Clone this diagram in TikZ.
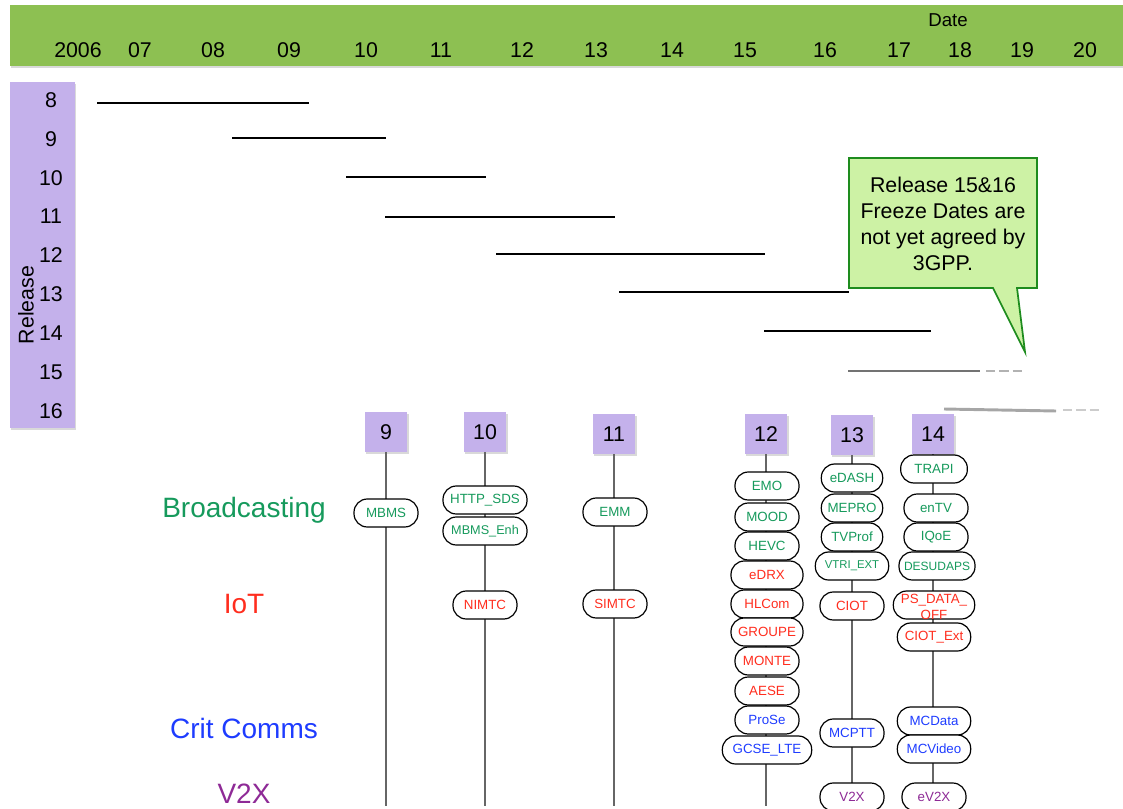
\documentclass[tikz,border=0pt]{standalone}
\usepackage{fontspec}
\setmainfont{Liberation Sans}
\usetikzlibrary{shadows}

\definecolor{bargreen}{HTML}{8DC052}
\definecolor{relpurple}{HTML}{C4B1EB}
\definecolor{notefill}{HTML}{CDF2A5}
\definecolor{noteedge}{HTML}{1E8C1E}
\definecolor{bcgreen}{HTML}{169A5C}
\definecolor{iotred}{HTML}{FF2D1E}
\definecolor{ccblue}{HTML}{1E3CFF}
\definecolor{vxpurple}{HTML}{8E2A96}

\begin{document}
\begin{tikzpicture}[x=0.75pt,y=-0.75pt, font=\fontsize{16}{19}\selectfont]
            \tikzstyle{feat}=[draw=black,fill=white,line width=0.9pt,rounded corners=10pt,minimum height=21pt,minimum width=48pt,inner sep=1pt,font=\fontsize{10}{12}\selectfont]
            \tikzstyle{rel}=[fill=relpurple,minimum width=32pt,minimum height=30pt,font=\fontsize{16}{19}\selectfont,drop shadow={shadow xshift=1pt,shadow yshift=-1.2pt,opacity=0.3}]
            \tikzstyle{bar}=[line width=2.2pt,black]
            \tikzstyle{stem}=[line width=2pt,black!60]
            \tikzstyle{cat}=[font=\fontsize{21}{24}\selectfont]
            \useasboundingbox (0,0) rectangle (1123,809);
            % date axis and release axis
            \path[fill=bargreen,drop shadow={shadow xshift=1pt,shadow yshift=-1.5pt,opacity=0.3}] (10,5) rectangle (1123,66);
            \path[fill=relpurple,drop shadow={shadow xshift=1pt,shadow yshift=-1.5pt,opacity=0.3}] (10,82) rectangle (75,428);
            \node (date) at (948,20) {\fontsize{14}{16}\selectfont Date};
            \foreach \yr/\x in {2006/78,07/140,08/213,09/289,10/366,11/441,12/522,13/596,14/672,15/745,16/825,17/899,18/960,19/1022,20/1085}
                \node (y\yr) at (\x,50) {\yr};
            \foreach \r/\y in {8/100,9/139,10/178,11/216,12/255,13/294,14/333,15/372,16/411}
                \node (l\r) at (51,\y) {\r};
            \node[rotate=90] (release) at (26,305) {Release};
            % release periods
            \draw[bar] (97,103) -- (309,103);
            \draw[bar] (232,138) -- (386,138);
            \draw[bar] (346,177) -- (486,177);
            \draw[bar] (385,217) -- (615,217);
            \draw[bar] (496,254) -- (765,254);
            \draw[bar] (619,292) -- (849,292);
            \draw[bar] (764,331) -- (931,331);
            \draw[line width=2.2pt,black!55] (848,371) -- (980,371);
            \draw[line width=2.2pt,black!30,dash pattern=on 7pt off 3pt] (986,371) -- (1024,371);
            \draw[line width=2.2pt,black!35] (944,409) -- (1056,411);
            \draw[line width=2.2pt,black!20,dash pattern=on 7pt off 3pt] (1063,410) -- (1102,410);
            % freeze note
            \draw[fill=notefill,draw=noteedge,line width=1.3pt] (849,158) -- (1037,158) -- (1037,288) -- (1017,288) -- (1025,352) -- (993,288) -- (849,288) -- cycle;
            \node[align=center,font=\fontsize{16}{19.5}\selectfont] (note) at (943,224) {Release 15\&16\\Freeze Dates are\\not yet agreed by\\3GPP.};
            % releases with their features
            \node[rel] (r9)  at (386,432) {9};
            \node[rel] (r10) at (485,432) {10};
            \node[rel] (r11) at (614,434) {11};
            \node[rel] (r12) at (766,434) {12};
            \node[rel] (r13) at (852,435) {13};
            \node[rel] (r14) at (933,434) {14};
            \foreach \r in {9,10,11,12,13,14} {
                \coordinate (e\r) at (r\r |- 0,806);
                \draw[stem] (r\r.south) -- (e\r);
            }
            \node[cat,text=bcgreen]  (bc)  at (244,510) {Broadcasting};
            \node[cat,text=iotred]   (iot) at (244,604) {IoT};
            \node[cat,text=ccblue]   (cc)  at (244,728) {Crit Comms};
            \node[cat,text=vxpurple] (vx)  at (244,794) {V2X};
            % 9
            \node[feat,text=bcgreen] (mbms) at (386,513) {MBMS};
            % 10
            \node[feat,text=bcgreen,minimum width=63pt] (httpsds) at (485,500) {HTTP\_SDS};
            \node[feat,text=bcgreen,minimum width=63pt,font=\fontsize{9.5}{11}\selectfont] (mbmsenh) at (485,531) {MBMS\_Enh};
            \node[feat,text=iotred] (nimtc) at (485,605) {NIMTC};
            % 11
            \node[feat,text=bcgreen] (emm) at (615,512) {EMM};
            \node[feat,text=iotred] (simtc) at (615,604) {SIMTC};
            % 12
            \node[feat,text=bcgreen] (emo) at (767,486) {EMO};
            \node[feat,text=bcgreen] (mood) at (767,517) {MOOD};
            \node[feat,text=bcgreen] (hevc) at (767,546) {HEVC};
            \node[feat,text=iotred,minimum width=54pt] (edrx) at (767,575) {eDRX};
            \node[feat,text=iotred,minimum width=54pt] (hlcom) at (767,604) {HLCom};
            \node[feat,text=iotred,minimum width=54pt] (groupe) at (767,632) {GROUPE};
            \node[feat,text=iotred] (monte) at (767,661) {MONTE};
            \node[feat,text=iotred] (aese) at (767,691) {AESE};
            \node[feat,text=ccblue] (prose) at (767,720) {ProSe};
            \node[feat,text=ccblue,minimum width=67pt] (gcse) at (767,750) {GCSE\_LTE};
            % 13
            \node[feat,text=bcgreen,minimum width=46pt] (edash) at (852,478) {eDASH};
            \node[feat,text=bcgreen,minimum width=46pt] (mepro) at (852,508) {MEPRO};
            \node[feat,text=bcgreen,minimum width=46pt] (tvprof) at (852,537) {TVProf};
            \node[feat,text=bcgreen,minimum width=55pt,font=\fontsize{8.5}{10}\selectfont] (vtri) at (852,566) {VTRI\_EXT};
            \node[feat,text=iotred] (ciot) at (852,606) {CIOT};
            \node[feat,text=ccblue] (mcptt) at (852,733) {MCPTT};
            \node[feat,text=vxpurple] (v2x) at (852,797) {V2X};
            % 14
            \node[feat,text=bcgreen,minimum width=50pt] (trapi) at (934,469) {TRAPI};
            \node[feat,text=bcgreen] (entv) at (936,508) {enTV};
            \node[feat,text=bcgreen] (iqoe) at (936,537) {IQoE};
            \node[feat,text=bcgreen,minimum width=57pt,font=\fontsize{9}{11}\selectfont] (desudaps) at (937,566) {DESUDAPS};
            \node[feat,text=iotred,minimum width=61pt] (psdata) at (934,605) {\smash{\raisebox{-5pt}{\begin{tabular}[c]{@{}c@{}}PS\_DATA\_\\OFF\end{tabular}}}};
            \node[feat,text=iotred,minimum width=55pt] (ciotext) at (934,637) {CIOT\_Ext};
            \node[feat,text=ccblue,minimum width=55pt] (mcdata) at (934,721) {MCData};
            \node[feat,text=ccblue,minimum width=55pt] (mcvideo) at (934,749) {MCVideo};
            \node[feat,text=vxpurple] (ev2x) at (934,797) {eV2X};
        \end{tikzpicture}
\end{document}
